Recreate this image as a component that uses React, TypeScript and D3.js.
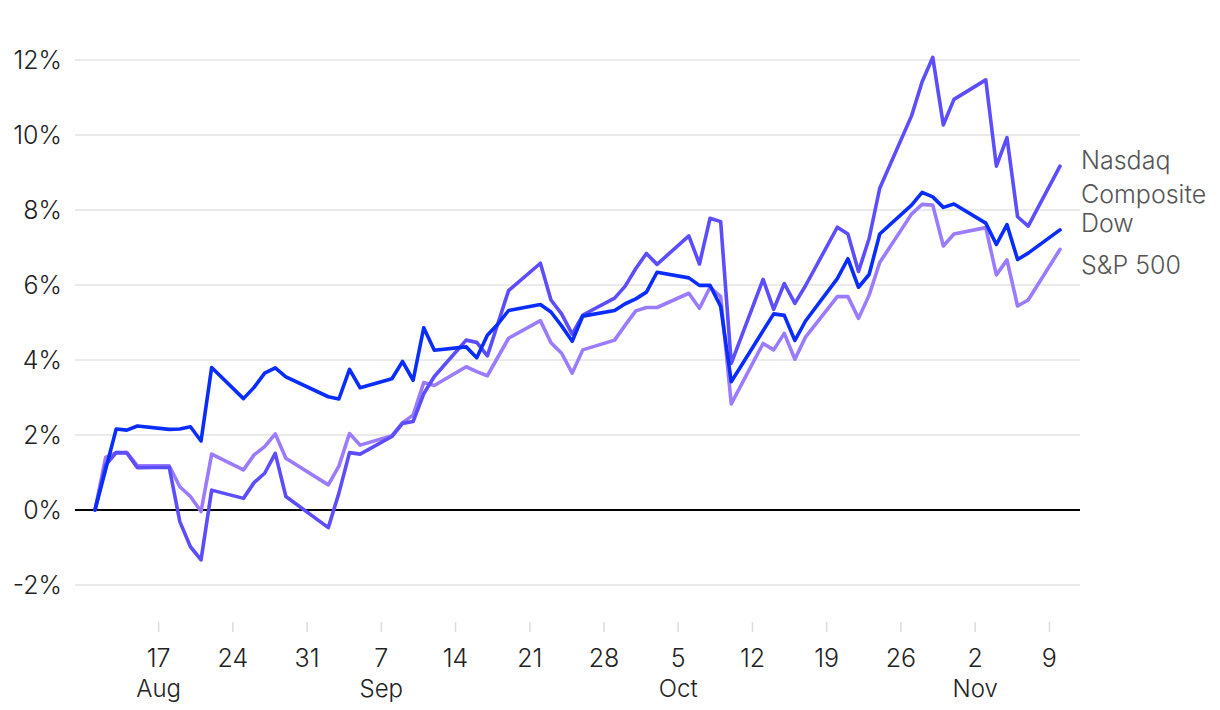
import React from "react";
import * as d3 from "d3";

const dates = [
  "2025-08-11","2025-08-12","2025-08-13","2025-08-14","2025-08-15",
  "2025-08-18","2025-08-19","2025-08-20","2025-08-21","2025-08-22",
  "2025-08-25","2025-08-26","2025-08-27","2025-08-28","2025-08-29",
  "2025-09-02","2025-09-03","2025-09-04","2025-09-05",
  "2025-09-08","2025-09-09","2025-09-10","2025-09-11","2025-09-12",
  "2025-09-15","2025-09-16","2025-09-17","2025-09-18","2025-09-19",
  "2025-09-22","2025-09-23","2025-09-24","2025-09-25","2025-09-26",
  "2025-09-29","2025-09-30","2025-10-01","2025-10-02","2025-10-03",
  "2025-10-06","2025-10-07","2025-10-08","2025-10-09","2025-10-10",
  "2025-10-13","2025-10-14","2025-10-15","2025-10-16","2025-10-17",
  "2025-10-20","2025-10-21","2025-10-22","2025-10-23","2025-10-24",
  "2025-10-27","2025-10-28","2025-10-29","2025-10-30","2025-10-31",
  "2025-11-03","2025-11-04","2025-11-05","2025-11-06","2025-11-07",
  "2025-11-10",
];

const dow = [
  0, 1.08, 2.16, 2.13, 2.24,
  2.15, 2.16, 2.22, 1.84, 3.8,
  2.97, 3.27, 3.65, 3.79, 3.55,
  3.02, 2.96, 3.75, 3.26,
  3.5, 3.96, 3.46, 4.86, 4.26,
  4.35, 4.06, 4.66, 4.96, 5.32,
  5.48, 5.28, 4.91, 4.5, 5.17,
  5.32, 5.5, 5.63, 5.81, 6.34,
  6.19, 5.99, 5.99, 5.43, 3.42,
  4.78, 5.23, 5.19, 4.52, 5.04,
  6.17, 6.7, 5.94, 6.28, 7.36,
  8.13, 8.47, 8.35, 8.07, 8.16,
  7.65, 7.08, 7.61, 6.68, 6.85,
  7.47,
];

const nasdaq = [
  0, 1.2, 1.53, 1.52, 1.13,
  1.14, -0.31, -0.98, -1.33, 0.53,
  0.31, 0.73, 0.98, 1.51, 0.36,
  -0.47, 0.45, 1.53, 1.49,
  1.96, 2.31, 2.36, 3.1, 3.56,
  4.53, 4.47, 4.11, 4.98, 5.85,
  6.58, 5.6, 5.23, 4.69, 5.2,
  5.65, 5.97, 6.44, 6.84, 6.55,
  7.31, 6.56, 7.78, 7.69, 3.91,
  6.15, 5.35, 6.04, 5.51, 5.98,
  7.54, 7.36, 6.36, 7.24, 8.58,
  10.51, 11.42, 12.07, 10.27, 10.95,
  11.47, 9.17, 9.93, 7.82, 7.57,
  9.17,
];

const sp500 = [
  0, 1.4, 1.53, 1.54, 1.18,
  1.18, 0.62, 0.36, -0.04, 1.49,
  1.07, 1.47, 1.69, 2.03, 1.38,
  0.67, 1.17, 2.04, 1.73,
  1.98, 2.33, 2.53, 3.4, 3.32,
  3.82, 3.69, 3.58, 4.08, 4.58,
  5.05, 4.46, 4.18, 3.65, 4.27,
  4.53, 4.93, 5.31, 5.4, 5.4,
  5.78, 5.38, 5.94, 5.69, 2.83,
  4.44, 4.27, 4.71, 4.02, 4.61,
  5.69, 5.69, 5.11, 5.73, 6.6,
  7.89, 8.15, 8.13, 7.04, 7.36,
  7.53, 6.27, 6.67, 5.44, 5.6,
  6.95,
];

const yTicks = [-2, 0, 2, 4, 6, 8, 10, 12];
const seriesNames = ["S&P 500", "Nasdaq Composite", "Dow"];
const seriesColors = ["#9b7bff", "#5c4dff", "#0a2dff"];
const legendLines = [["Nasdaq", "Composite"], ["Dow"], ["S&P 500"]];

const FONT = "Inter, 'Noto Sans', sans-serif";

export default function App() {
  const W = 1220, H = 710;
  const parse = d3.timeParse("%Y-%m-%d");
  const xDates = dates.map((d) => parse(d) as Date);
  const x = d3.scaleTime().domain([xDates[0], xDates[xDates.length - 1]]).range([95, 1060]);
  const y = d3.scaleLinear().domain([-3, 12]).range([622.5, 60]);
  const line = d3.line<number>().x((_, i) => x(xDates[i])).y((v) => y(v));
  const allSeries = [sp500, nasdaq, dow];
  const weekTicks = x.ticks(d3.timeSunday.every(1) as any);
  const fmtDay = d3.timeFormat("%-d");
  const fmtMon = d3.timeFormat("%b");
  let lastMonth = -1;

  const gridX0 = 75, gridX1 = 1080;

  return (
    <svg width={W} height={H} style={{ position: "absolute", left: 0, top: 0, background: "#fff" }} fontFamily={FONT} fontWeight={300}>
      {yTicks.map((t) => (
        <g key={t}>
          <line x1={gridX0} x2={gridX1} y1={y(t)} y2={y(t)} stroke={t === 0 ? "#000" : "#e3e3e3"} strokeWidth={t === 0 ? 2 : 1.5} />
          <text x={62} y={y(t)} dy="0.36em" textAnchor="end" fontSize={25} fill="#222">
            {`${t}%`}
          </text>
        </g>
      ))}
      {weekTicks.map((d, i) => {
        const m = d.getMonth();
        const showMonth = m !== lastMonth;
        lastMonth = m;
        return (
          <g key={i}>
            <line x1={x(d)} x2={x(d)} y1={622} y2={632} stroke="#dcdcdc" strokeWidth={1.5} />
            <text x={x(d)} y={667} textAnchor="middle" fontSize={25} fill="#222">{fmtDay(d)}</text>
            {showMonth && (
              <text x={x(d)} y={697} textAnchor="middle" fontSize={24} fill="#222">{fmtMon(d)}</text>
            )}
          </g>
        );
      })}
      {allSeries.map((s, i) => (
        <path key={seriesNames[i]} d={line(s) || ""} fill="none" stroke={seriesColors[i]} strokeWidth={3.6} strokeLinejoin="round" strokeLinecap="round" />
      ))}
      <text x={1081} y={169} fontSize={25} fill="#555">
        <tspan x={1081}>{legendLines[0][0]}</tspan>
        <tspan x={1081} dy={34}>{legendLines[0][1]}</tspan>
      </text>
      <text x={1081} y={232} fontSize={25} fill="#555">{legendLines[1][0]}</text>
      <text x={1081} y={274} fontSize={25} fill="#555">{legendLines[2][0]}</text>
    </svg>
  );
}
